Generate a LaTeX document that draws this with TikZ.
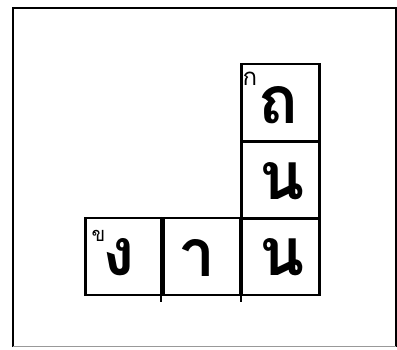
\documentclass[tikz,border=0pt]{standalone}
\usepackage{fontspec}
\newfontfamily\thaifont[Script=Thai]{Loma}
\begin{document}
\begin{tikzpicture}[x=1pt,y=-1pt,
  cellbox/.style={draw=black,line width=2.4pt,minimum width=78pt,minimum height=77pt,inner sep=0pt},
  big/.style={font=\thaifont\bfseries\fontsize{66}{66}\selectfont,inner sep=0pt},
  clue/.style={font=\thaifont\fontsize{24}{24}\selectfont,inner sep=0pt,anchor=north west}]
\useasboundingbox (0,0) rectangle (397,349);
\draw[line width=2.2pt] (13,347) -- (13,8) -- (396,8) -- (396,347);
\draw[line width=0.5pt,black!40] (13,346) -- (396,346);
% cells
\node[cellbox] (t) at (280.5,102.5) {};
\node[cellbox] (m) at (280.5,180) {};
\node[cellbox] (b3) at (280.5,256.5) {};
\node[cellbox] (b2) at (201,256.5) {};
\node[cellbox] (b1) at (124.5,256.5) {};
\draw[line width=2.4pt] (b2.north west) -- ([yshift=-6pt]b2.south west);
\draw[line width=2.4pt] (b2.north east) -- ([yshift=-6pt]b2.south east);
% letters
\node[big] (lt) at ([xshift=-2pt,yshift=-3pt]t.center) {ถ};
\node[big] (lm) at ([xshift=2pt,yshift=-1pt]m.center) {น};
\node[big] (l3) at ([xshift=2pt,yshift=-1pt]b3.center) {น};
\node[big] (l2) at ([xshift=-4pt,yshift=-1pt]b2.center) {า};
\node[big] (l1) at ([xshift=-6pt,yshift=-1pt]b1.center) {ง};
\node[clue] (ck) at ([xshift=2pt,yshift=-9pt]t.north west) {ก};
\node[clue,font=\thaifont\fontsize{20}{20}\selectfont] (ckh) at ([xshift=7pt,yshift=-13pt]b1.north west) {ข};
\end{tikzpicture}
\end{document}
